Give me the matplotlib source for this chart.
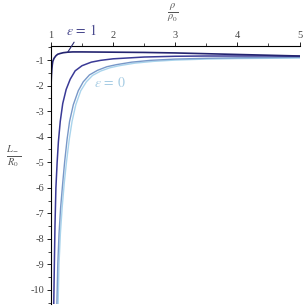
import numpy as np
import matplotlib.pyplot as plt
from matplotlib.ticker import MultipleLocator

plt.rcParams['font.family'] = ['Liberation Serif', 'DejaVu Serif']
plt.rcParams['mathtext.fontset'] = 'stix'

# values (rho/rho0, L-/R0)
x_eps1 = [1.0, 1.003, 1.008, 1.015, 1.022, 1.03, 1.05, 1.08, 1.11, 1.15, 1.2, 1.27,
          1.35, 1.5, 1.75, 2.0, 2.5, 3.0, 3.5, 4.0, 4.5, 5.0]
y_eps1 = [-2.25, -1.9, -1.6, -1.35, -1.18, -1.05, -0.93, -0.83, -0.77, -0.74, -0.71, -0.69,
          -0.68, -0.68, -0.685, -0.69, -0.7, -0.72, -0.75, -0.78, -0.81, -0.84]

x_b = [1.045, 1.055, 1.065, 1.08, 1.10, 1.12, 1.15, 1.19, 1.245, 1.31, 1.39, 1.5,
       1.65, 1.8, 2.0, 2.5, 3.0, 3.5, 4.0, 4.5, 5.0]
y_b = [-10.6, -9.0, -7.5, -6.0, -5.0, -4.2, -3.4, -2.7, -2.15, -1.75, -1.42, -1.22,
       -1.08, -1.01, -0.95, -0.88, -0.85, -0.84, -0.84, -0.84, -0.85]

x_c = [1.095, 1.11, 1.13, 1.155, 1.19, 1.22, 1.26, 1.3, 1.36, 1.44, 1.52, 1.62,
       1.75, 1.9, 2.05, 2.3, 2.6, 3.0, 3.5, 4.0, 4.5, 5.0]
y_c = [-10.6, -9.0, -7.8, -6.8, -5.8, -5.0, -4.1, -3.4, -2.75, -2.2, -1.85, -1.58,
       -1.4, -1.26, -1.18, -1.08, -1.01, -0.96, -0.93, -0.91, -0.9, -0.89]

x_eps0 = [1.115, 1.13, 1.152, 1.18, 1.215, 1.25, 1.295, 1.34, 1.4, 1.48, 1.57, 1.67,
          1.8, 1.95, 2.1, 2.35, 2.65, 3.0, 3.5, 4.0, 4.5, 5.0]
y_eps0 = [-10.6, -9.0, -7.8, -6.8, -5.8, -5.0, -4.1, -3.4, -2.75, -2.2, -1.85, -1.6,
          -1.43, -1.3, -1.22, -1.12, -1.05, -1.0, -0.96, -0.94, -0.93, -0.92]

fig = plt.figure(figsize=(3.05, 3.07), dpi=100)
ax = fig.add_axes([0.167, 0.01, 0.815, 0.84])

ax.plot(x_eps0, y_eps0, color='#a9d4ec', lw=1.0)
ax.plot(x_c, y_c, color='#7898c8', lw=1.0)
ax.plot(x_b, y_b, color='#3a3a96', lw=1.1)
ax.plot(x_eps1, y_eps1, color='#242470', lw=1.2)

ax.set_xlim(1, 5)
ax.set_ylim(-10.55, -0.45)

for s in ['bottom', 'right']:
    ax.spines[s].set_visible(False)
for s in ['top', 'left']:
    ax.spines[s].set_linewidth(0.8)

ax.xaxis.set_ticks_position('top')
ax.xaxis.set_major_locator(MultipleLocator(1))
ax.xaxis.set_minor_locator(MultipleLocator(0.5))
ax.yaxis.set_major_locator(MultipleLocator(1))
ax.yaxis.set_minor_locator(MultipleLocator(0.5))
ax.tick_params(which='major', direction='out', length=3, width=0.6,
               labelsize=7.5, labelcolor='#444444', pad=1.5)
ax.tick_params(which='minor', direction='out', length=2, width=0.5)
ax.set_yticks(range(-10, 0))
ax.set_yticklabels([str(v) for v in range(-10, 0)])

fig.text(173 / 305, 1 - 13 / 307, r'$\frac{\rho}{\rho_0}$', ha='center', va='center',
         fontsize=10.5, color='#555555')
fig.text(14 / 305, 1 - 156 / 307, r'$\frac{L_-}{R_0}$', ha='center', va='center',
         fontsize=10.5, color='#555555')

ax.annotate(r'$\varepsilon\,=\,1$', xy=(1.27, -0.69), xytext=(1.49, 0.15),
            ha='center', va='center', fontsize=10, color='#4a4a8e',
            annotation_clip=False,
            arrowprops=dict(arrowstyle='-', color='#2a2a70', lw=0.8, shrinkA=1, shrinkB=0))
ax.text(1.95, -1.9, r'$\varepsilon\,=\,0$', ha='center', va='center',
        fontsize=10, color='#a8cde4')

fig.savefig('out.png', dpi=100)
